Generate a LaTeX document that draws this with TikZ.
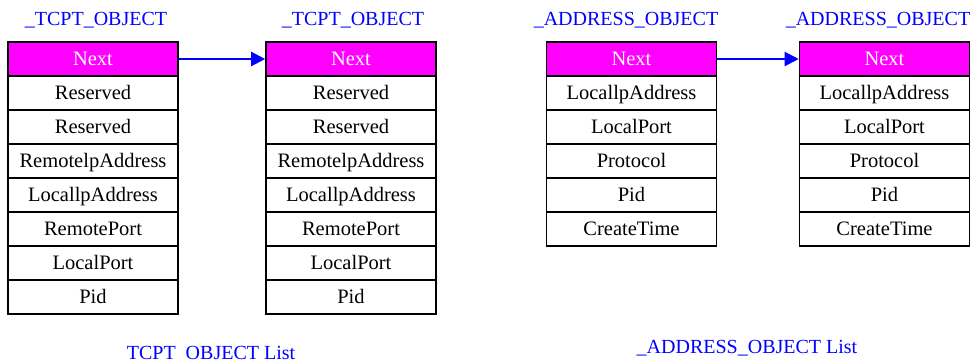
\documentclass[tikz,border=0pt]{standalone}
\usepackage{fontspec}
\setmainfont{Liberation Serif}
\usetikzlibrary{arrows.meta}
\definecolor{mag}{RGB}{255,0,255}
\definecolor{lblue}{RGB}{0,0,255}
\begin{document}
\begin{tikzpicture}[x=1pt,y=-1pt,
  cell/.style={draw=black,line width=1.6pt,minimum width=170pt,minimum height=34pt,inner sep=0pt,text height=14pt,text depth=2pt,font=\fontsize{20.5}{22}\selectfont,anchor=center},
  head/.style={cell,fill=mag,text=white},
  ttl/.style={text=lblue,font=\fontsize{20}{22}\selectfont,inner sep=0pt},
  link/.style={draw=lblue,line width=2.2pt,-{Triangle[length=14pt,width=14pt]}}]
\useasboundingbox (0,0) rectangle (974,362);
\foreach \t [count=\i from 0] in {Next,Reserved,Reserved,RemotelpAddress,LocallpAddress,RemotePort,LocalPort,Pid}{
  \ifnum\i=0
    \node[head] (a\i) at (93,59) {\t};
    \node[head] (b\i) at (351,59) {\t};
  \else
    \node[cell] (a\i) at (93,59+34*\i) {\t};
    \node[cell] (b\i) at (351,59+34*\i) {\t};
  \fi
}
\foreach \t [count=\i from 0] in {Next,LocallpAddress,LocalPort,Protocol,Pid,CreateTime}{
  \ifnum\i=0
    \node[head] (c\i) at (631.5,59) {\t};
    \node[head] (d\i) at (884.5,59) {\t};
  \else
    \node[cell] (c\i) at (631.5,59+34*\i) {\t};
    \node[cell] (d\i) at (884.5,59+34*\i) {\t};
  \fi
}
\node[ttl] (ta) at (96,20) {\_TCPT\_OBJECT};
\node[ttl] (tb) at (353,20) {\_TCPT\_OBJECT};
\node[ttl] (tc) at (626,20) {\_ADDRESS\_OBJECT};
\node[ttl] (td) at (878,20) {\_ADDRESS\_OBJECT};
\node[ttl] (la) at (211,353) {TCPT\ \ OBJECT List};
\node[ttl] (lb) at (747,348) {\_ADDRESS\_OBJECT List};
\draw[link] (a0.east) -- (b0.west);
\draw[link] (c0.east) -- (d0.west);
\end{tikzpicture}
\end{document}
